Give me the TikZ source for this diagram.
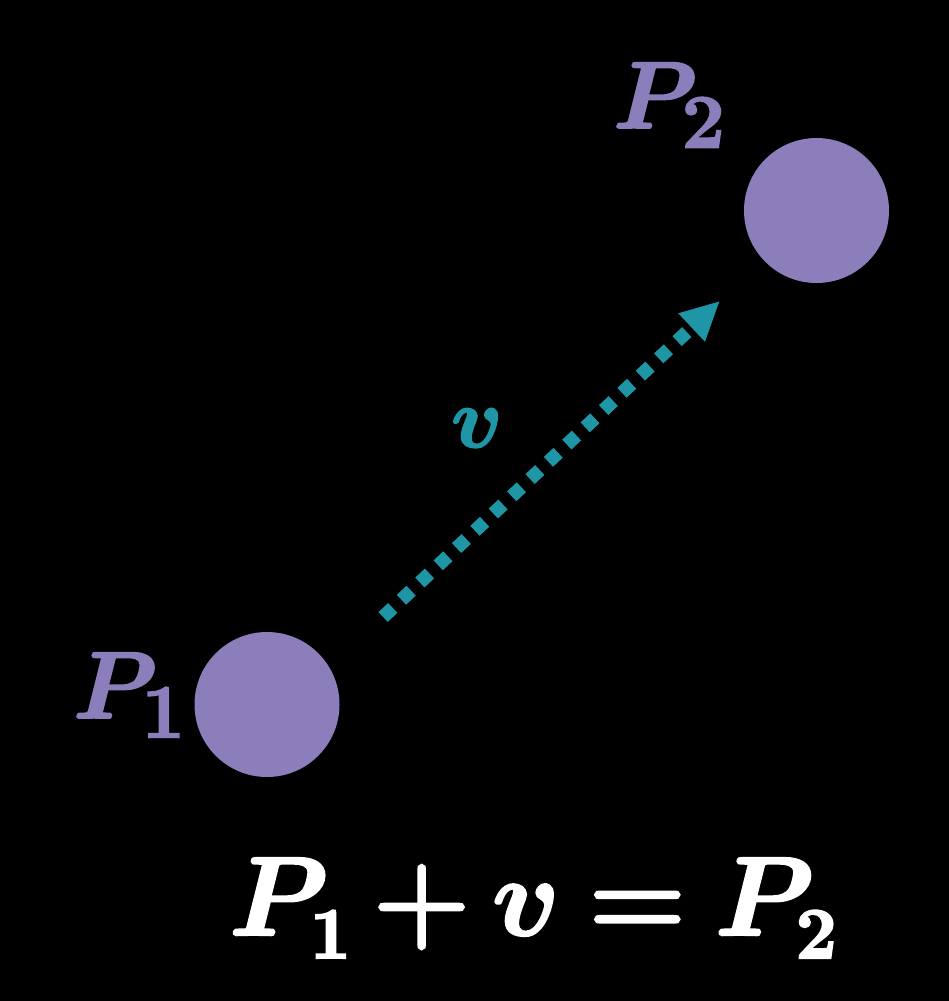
\RequirePackage{fix-cm}
\documentclass[tikz,border=0pt]{standalone}
\usepackage{amsmath}
\usetikzlibrary{arrows.meta}
\DeclareMathSizes{112}{112}{72}{50}
\DeclareMathSizes{95}{95}{76}{50}
\DeclareMathSizes{85}{85}{60}{40}
\definecolor{ptpurple}{RGB}{140,126,186}
\definecolor{vteal}{RGB}{31,150,166}
\newcommand{\heavytext}[2]{\special{pdf:literal direct 2 Tr #1 w}#2\special{pdf:literal direct 0 Tr}}
\tikzset{
  ptdot/.style={circle, fill=ptpurple, minimum size=145pt, inner sep=0pt},
  ptlabel/.style={text=ptpurple, inner sep=0pt, anchor=base west, font=\fontsize{95}{95}\selectfont\boldmath},
  veclabel/.style={text=vteal, inner sep=0pt, anchor=base west, font=\fontsize{85}{85}\selectfont\boldmath},
  eqlabel/.style={text=white, inner sep=0pt, anchor=base west, font=\fontsize{112}{112}\selectfont\boldmath},
  vecarrow/.style={draw=vteal, line width=13.5pt, line cap=butt, dash pattern=on 13.2pt off 12pt,
    -{Triangle[length=38pt,width=39pt,line width=0pt]}}
}
\begin{document}
\begin{tikzpicture}[x=1pt,y=-1pt]
  \useasboundingbox (0,0) rectangle (949,1001);
  \fill[black] (0,0) rectangle (949,1001);
  \node[ptdot] (p1) at (267,704.5) {};
  \node[ptdot] (p2) at (816.5,210.5) {};
  \node[ptlabel] (lp1) at (73,718) {\heavytext{2}{$P_{\raisebox{-5pt}{$\scriptstyle 1$}}$}};
  \node[ptlabel] (lp2) at (613,128) {\heavytext{2}{$P_{\raisebox{-5pt}{$\scriptstyle 2$}}$}};
  \coordinate (vs) at (383.1,617.0);
  \coordinate (vt) at (719.3,301.5);
  \draw[vecarrow] (vs) -- (vt);
  \node[veclabel] (lv) at (451,447) {\heavytext{2}{$v$}};
  \node[eqlabel] (eq) at (229,935) {\heavytext{2.5}{$\medmuskip=3mu\thickmuskip=4mu P_{\raisebox{-6pt}{$\scriptstyle 1$}}+v=P_{\raisebox{-6pt}{$\scriptstyle 2$}}$}};
\end{tikzpicture}
\end{document}
